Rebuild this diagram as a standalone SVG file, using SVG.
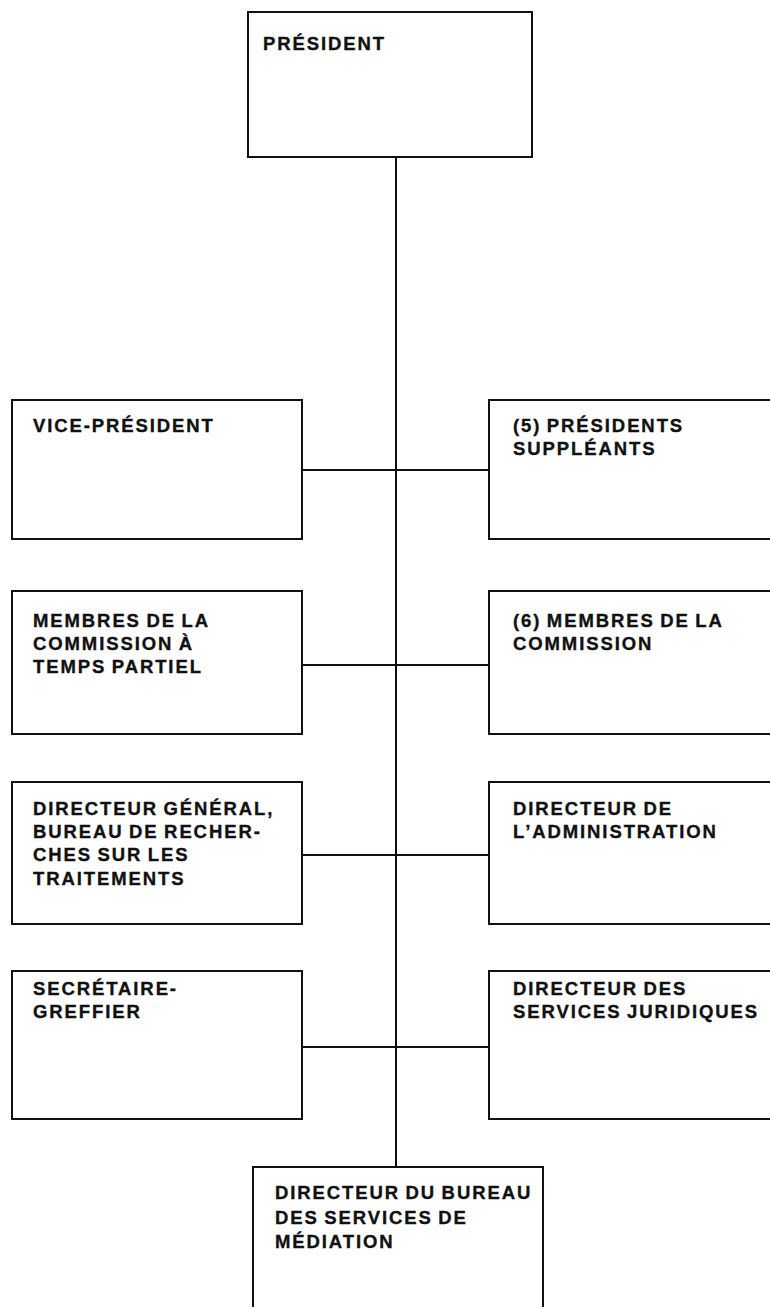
<svg xmlns="http://www.w3.org/2000/svg" width="770" height="1307" viewBox="0 0 770 1307">
  <style>
    .box { fill: #fff; stroke: #111; stroke-width: 2; }
    .lbl { font-family: "Liberation Sans", Arial, sans-serif; font-weight: bold; font-size: 18.5px; letter-spacing: 1.9px; word-spacing: -1.5px; fill: #111; stroke: #111; stroke-width: 0.35; }
    .wire { fill: none; stroke: #111; stroke-width: 2; }
  </style>
  <rect width="770" height="1307" fill="#fff"/>

  <!-- connectors: main spine and the four horizontal cross-bars -->
  <g id="connectors">
    <line class="wire" x1="396" y1="157" x2="396" y2="1167"/>
    <line class="wire" x1="302" y1="470" x2="489" y2="470"/>
    <line class="wire" x1="302" y1="665" x2="489" y2="665"/>
    <line class="wire" x1="302" y1="855" x2="489" y2="855"/>
    <line class="wire" x1="302" y1="1047" x2="489" y2="1047"/>
  </g>

  <g id="president">
    <rect class="box" x="248" y="12" width="284" height="145"/>
    <text class="lbl" x="263" y="50">PRÉSIDENT</text>
  </g>

  <g id="vice-president">
    <rect class="box" x="12" y="400" width="290" height="139"/>
    <text class="lbl" x="33" y="432">VICE-PRÉSIDENT</text>
  </g>

  <g id="presidents-suppleants">
    <rect class="box" x="489" y="400" width="300" height="139"/>
    <text class="lbl" x="513" y="432">(5) PRÉSIDENTS</text>
    <text class="lbl" x="513" y="455">SUPPLÉANTS</text>
  </g>

  <g id="membres-temps-partiel">
    <rect class="box" x="12" y="591" width="290" height="143"/>
    <text class="lbl" x="33" y="627">MEMBRES DE LA</text>
    <text class="lbl" x="33" y="650">COMMISSION À</text>
    <text class="lbl" x="33" y="673">TEMPS PARTIEL</text>
  </g>

  <g id="membres-commission">
    <rect class="box" x="489" y="591" width="300" height="143"/>
    <text class="lbl" x="513" y="627">(6) MEMBRES DE LA</text>
    <text class="lbl" x="513" y="650">COMMISSION</text>
  </g>

  <g id="directeur-general">
    <rect class="box" x="12" y="782" width="290" height="142"/>
    <text class="lbl" x="33" y="815">DIRECTEUR GÉNÉRAL,</text>
    <text class="lbl" x="33" y="838">BUREAU DE RECHER-</text>
    <text class="lbl" x="33" y="861">CHES SUR LES</text>
    <text class="lbl" x="33" y="885">TRAITEMENTS</text>
  </g>

  <g id="directeur-administration">
    <rect class="box" x="489" y="782" width="300" height="142"/>
    <text class="lbl" x="513" y="815">DIRECTEUR DE</text>
    <text class="lbl" x="513" y="838">L’ADMINISTRATION</text>
  </g>

  <g id="secretaire-greffier">
    <rect class="box" x="12" y="971" width="290" height="148"/>
    <text class="lbl" x="33" y="995">SECRÉTAIRE-</text>
    <text class="lbl" x="33" y="1018">GREFFIER</text>
  </g>

  <g id="directeur-services-juridiques">
    <rect class="box" x="489" y="971" width="300" height="148"/>
    <text class="lbl" x="513" y="995">DIRECTEUR DES</text>
    <text class="lbl" x="513" y="1018">SERVICES JURIDIQUES</text>
  </g>

  <g id="directeur-mediation">
    <rect class="box" x="253" y="1167" width="290" height="160"/>
    <text class="lbl" x="275" y="1199">DIRECTEUR DU BUREAU</text>
    <text class="lbl" x="275" y="1224">DES SERVICES DE</text>
    <text class="lbl" x="275" y="1248">MÉDIATION</text>
  </g>
</svg>
